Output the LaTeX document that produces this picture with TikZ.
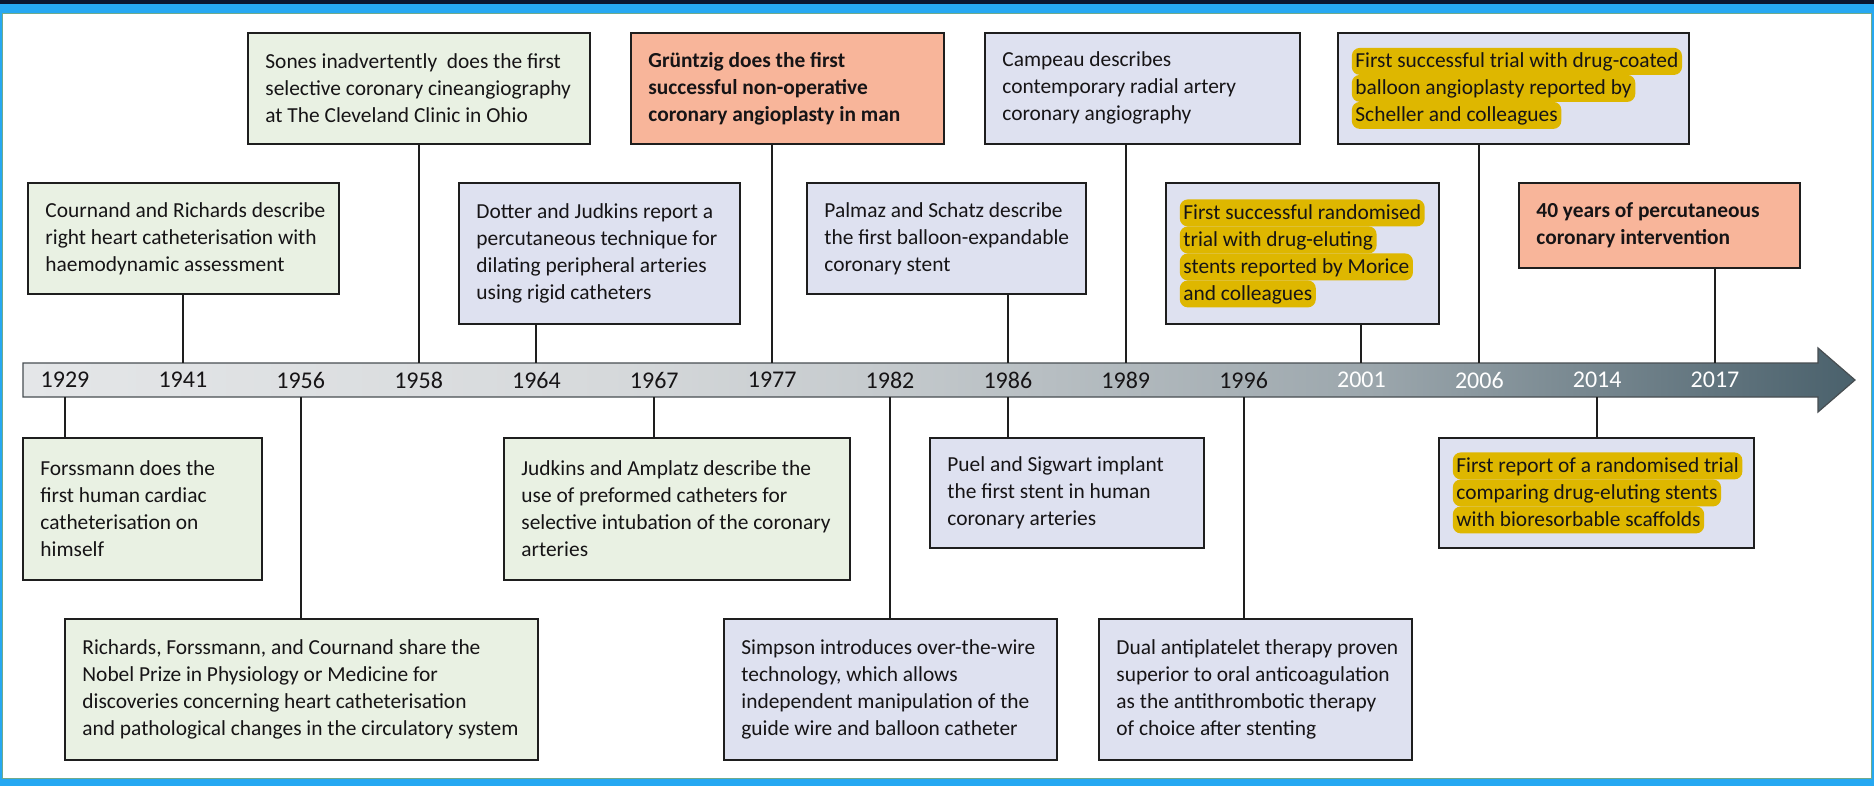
\documentclass[tikz,border=0pt]{standalone}
\usepackage{fontspec}
\setmainfont{Carlito}
\usetikzlibrary{positioning}

\definecolor{navy}{RGB}{11,23,48}
\definecolor{frameblue}{RGB}{38,168,242}
\definecolor{frameline}{RGB}{112,170,140}
\definecolor{boxgreen}{RGB}{233,241,227}
\definecolor{boxblue}{RGB}{222,225,240}
\definecolor{boxsalmon}{RGB}{248,181,154}
\definecolor{hlgold}{RGB}{222,183,0}
\definecolor{boxline}{RGB}{30,30,30}
\definecolor{textdark}{RGB}{22,20,22}
\definecolor{barborder}{RGB}{72,78,82}
\definecolor{barA}{RGB}{228,230,232}
\definecolor{barB}{RGB}{214,217,219}
\definecolor{barC}{RGB}{198,203,206}
\definecolor{barD}{RGB}{168,177,182}
\definecolor{barE}{RGB}{155,166,172}
\definecolor{barF}{RGB}{92,112,122}
\definecolor{barG}{RGB}{74,97,108}

\pgfdeclarehorizontalshading{barshade}{100bp}{color(0bp)=(barA); color(25bp)=(barA); color(41bp)=(barB); color(48bp)=(barC); color(58bp)=(barD); color(62bp)=(barE); color(72bp)=(barF); color(75bp)=(barG); color(100bp)=(barG)}

\newcommand{\hlline}[1]{\tikz[baseline=(hl.base)]\node[fill=hlgold,rounded corners=4pt,inner xsep=1.8pt,inner ysep=0pt,text height=10pt,text depth=3.5pt] (hl) {#1};}

\begin{document}
\begin{tikzpicture}[x=0.5pt,y=-0.5pt,
  evbox/.style={draw=boxline,line width=0.9pt,anchor=north west,inner sep=0pt},
  greenbox/.style={evbox,fill=boxgreen},
  bluebox/.style={evbox,fill=boxblue},
  salmonbox/.style={evbox,fill=boxsalmon},
  evtext/.style={inner sep=0pt,align=left,text=textdark,font=\fontsize{10.7}{13.5}\selectfont},
  boldtext/.style={evtext,font=\fontsize{10.7}{13.5}\selectfont\bfseries},
  yearlbl/.style={inner sep=0pt,font=\fontsize{12}{14}\selectfont},
  conn/.style={draw=boxline,line width=1pt}]
  % Ram
  \useasboundingbox (0,0) rectangle (1874,786);
  \fill[white] (0,0) rectangle (1874,786);
  \fill[navy] (0,0) rectangle (1874,4.5);
  \fill[frameblue] (0,4.5) rectangle (1874,13);
  \fill[frameblue] (0,779) rectangle (1874,786);
  \fill[frameblue] (0,13) rectangle (2,779);
  \fill[frameblue] (1871.5,13) rectangle (1874,779);
  \draw[frameline,line width=0.5pt] (2.5,13.5) rectangle (1871,778.5);
  % Tidslinje
  \shadedraw[shading=barshade,draw=barborder,line width=0.6pt] (23,363) -- (1818,363) -- (1818,348) -- (1855,380) -- (1818,412) -- (1818,397) -- (23,397) -- cycle;
  \coordinate (bartop) at (0,363);
  \coordinate (barbot) at (0,397);
  % Årtal
  \foreach \yr/\tc [count=\i from 0] in {1929/textdark,1941/textdark,1956/textdark,1958/textdark,1964/textdark,1967/textdark,1977/textdark,1982/textdark,1986/textdark,1989/textdark,1996/textdark,2001/white,2006/white,2014/white,2017/white}
    \node[yearlbl,text=\tc] (y\yr) at ({65+117.86*\i},380) {\yr};
  % Rutor ovanför
  \node[greenbox,minimum width=171pt,minimum height=55.5pt] (sones) at (247,32) {};
  \node[evtext,right=9pt of sones.west] (sonestxt) {Sones inadvertently~ does the first\\selective coronary cineangiography\\at The Cleveland Clinic in Ohio};
  \node[salmonbox,minimum width=156.5pt,minimum height=55.5pt] (gruntzig) at (630,32) {};
  \node[boldtext,right=9pt of gruntzig.west] (gruntzigtxt) {Grüntzig does the first\\successful non-operative\\coronary angioplasty in man};
  \node[bluebox,minimum width=157.5pt,minimum height=55.5pt] (campeau) at (984,32) {};
  \node[evtext,right=9pt of campeau.west] (campeautxt) {Campeau describes\\contemporary radial artery\\coronary angiography};
  \node[bluebox,minimum width=175.5pt,minimum height=55.5pt] (scheller) at (1337,32) {};
  \node[evtext,right=7.2pt of scheller.west] (schellertxt) {\hlline{First successful trial with drug-coated}\\\hlline{balloon angioplasty reported by}\\\hlline{Scheller and colleagues}};
  \node[greenbox,minimum width=155.5pt,minimum height=55.5pt] (cournand) at (27,182) {};
  \node[evtext,right=9pt of cournand.west] (cournandtxt) {Cournand and Richards describe\\right heart catheterisation with\\haemodynamic assessment};
  \node[bluebox,minimum width=140.5pt,minimum height=70.5pt] (dotter) at (458,182) {};
  \node[evtext,right=9pt of dotter.west] (dottertxt) {Dotter and Judkins report a\\percutaneous technique for\\dilating peripheral arteries\\using rigid catheters};
  \node[bluebox,minimum width=139.5pt,minimum height=55.5pt] (palmaz) at (806,182) {};
  \node[evtext,right=9pt of palmaz.west] (palmaztxt) {Palmaz and Schatz describe\\the first balloon-expandable\\coronary stent};
  \node[bluebox,minimum width=136.5pt,minimum height=70.5pt] (morice) at (1165,182) {};
  \node[evtext,right=7.2pt of morice.west] (moricetxt) {\hlline{First successful randomised}\\\hlline{trial with drug-eluting}\\\hlline{stents reported by Morice}\\\hlline{and colleagues}};
  \node[salmonbox,minimum width=140.5pt,minimum height=42.5pt] (forty) at (1518,182) {};
  \node[boldtext,right=9pt of forty.west] (fortytxt) {40 years of percutaneous\\coronary intervention};
  % Rutor under
  \node[greenbox,minimum width=119.5pt,minimum height=71pt] (forssmann) at (22,437) {};
  \node[evtext,right=9pt of forssmann.west] (forssmanntxt) {Forssmann does the\\first human cardiac\\catheterisation on\\himself};
  \node[greenbox,minimum width=173pt,minimum height=71pt] (amplatz) at (503,437) {};
  \node[evtext,right=9pt of amplatz.west] (amplatztxt) {Judkins and Amplatz describe the\\use of preformed catheters for\\selective intubation of the coronary\\arteries};
  \node[bluebox,minimum width=137pt,minimum height=55pt] (puel) at (929,437) {};
  \node[evtext,right=9pt of puel.west] (pueltxt) {Puel and Sigwart implant\\the first stent in human\\coronary arteries};
  \node[bluebox,minimum width=157.5pt,minimum height=55pt] (scaffold) at (1438,437) {};
  \node[evtext,right=7.2pt of scaffold.west] (scaffoldtxt) {\hlline{First report of a randomised trial}\\\hlline{comparing drug-eluting stents}\\\hlline{with bioresorbable scaffolds}};
  \node[greenbox,minimum width=236.5pt,minimum height=70.5pt] (nobel) at (64,618) {};
  \node[evtext,right=9pt of nobel.west] (nobeltxt) {Richards, Forssmann, and Cournand share the\\Nobel Prize in Physiology or Medicine for\\discoveries concerning heart catheterisation\\and pathological changes in the circulatory system};
  \node[bluebox,minimum width=166.5pt,minimum height=70.5pt] (simpson) at (723,618) {};
  \node[evtext,right=9pt of simpson.west] (simpsontxt) {Simpson introduces over-the-wire\\technology, which allows\\independent manipulation of the\\guide wire and balloon catheter};
  \node[bluebox,minimum width=156.5pt,minimum height=70.5pt] (dapt) at (1098,618) {};
  \node[evtext,right=9pt of dapt.west] (dapttxt) {Dual antiplatelet therapy proven\\superior to oral anticoagulation\\as the antithrombotic therapy\\of choice after stenting};
  % Linjer till tidslinjen
  \foreach \b/\yr in {cournand/1941,sones/1958,dotter/1964,gruntzig/1977,palmaz/1986,campeau/1989,morice/2001,scheller/2006,forty/2017}
    \draw[conn] (y\yr |- \b.south) -- (y\yr |- bartop);
  \foreach \b/\yr in {forssmann/1929,nobel/1956,amplatz/1967,simpson/1982,puel/1986,dapt/1996,scaffold/2014}
    \draw[conn] (y\yr |- barbot) -- (y\yr |- \b.north);
\end{tikzpicture}
\end{document}
